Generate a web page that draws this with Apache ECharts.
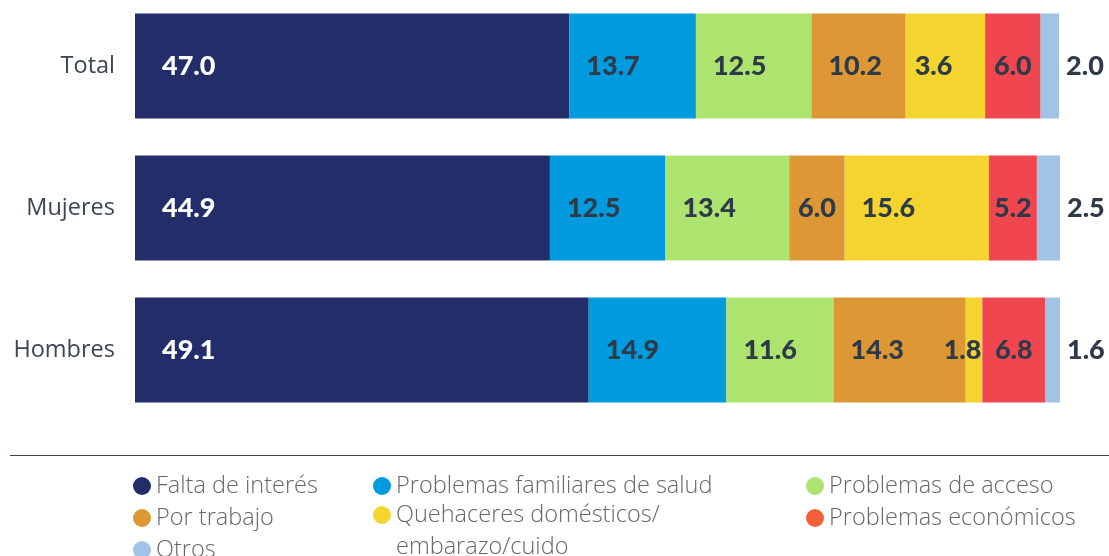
<!DOCTYPE html>
<html><head><meta charset="utf-8">
<script src="https://cdn.jsdelivr.net/npm/echarts@6/dist/echarts.min.js"></script>
<style>html,body{margin:0;padding:0;background:#fff}#c{width:1109px;height:556px}</style>
</head><body><div id="c"></div>
<script>
// Categories (top to bottom)
const categories = ['Total', 'Mujeres', 'Hombres'];
// Series values (bar widths as drawn)
const faltaInteres = [47.0, 44.9, 49.1];
const familiaresSalud = [13.7, 12.5, 14.9];
const acceso = [12.5, 13.4, 11.6];
const porTrabajo = [10.2, 6.0, 14.3];
const quehaceres = [8.6, 15.6, 1.8];
const quehaceresLabels = ['3.6', '15.6', '1.8']; // printed labels in the source
const economicos = [6.0, 5.2, 6.8];
const otros = [2.0, 2.5, 1.6];

const seriesNames = ['Falta de interés', 'Problemas familiares de salud', 'Problemas de acceso',
  'Por trabajo', 'Quehaceres domésticos/\nembarazo/cuido', 'Problemas económicos', 'Otros'];
const seriesData = [faltaInteres, familiaresSalud, acceso, porTrabajo, quehaceres, economicos, otros];
const seriesLabels = [null, null, null, null, quehaceresLabels, null, null];
const colors = ['#232d6a', '#009bde', '#ade36f', '#dd9734', '#f4d52f', '#ef4650', '#a1c4e6'];
const legendColors = ['#232d6a', '#009bde', '#ade36f', '#dd9734', '#f4d52f', '#f26139', '#a1c4e6'];

const LABEL_FONT = 'Lato';
const TEXT_FONT = 'Open Sans';
const labelColor = '#2e3a47';

function labelFor(si, v) {
  if (si === 0) return { position: 'insideLeft', distance: 27, color: '#ffffff' };
  if (si === 6) return { position: 'right', distance: 7, color: labelColor };
  if (v >= 10) return { position: 'insideLeft', distance: 17, color: labelColor };
  if (v >= 7) return { position: 'insideLeft', distance: 9, color: labelColor };
  if (v >= 3) return { position: 'inside', color: labelColor };
  return { position: 'insideRight', distance: 1, color: labelColor };
}

const series = seriesData.map((arr, si) => ({
  name: seriesNames[si],
  type: 'bar',
  stack: 'all',
  barWidth: 105,
  itemStyle: { color: colors[si] },
  emphasis: { disabled: true },
  data: arr.map((v, i) => ({
    value: v,
    label: Object.assign({
      show: true,
      fontFamily: LABEL_FONT,
      fontWeight: 900,
      fontSize: 27,
      formatter: () => seriesLabels[si] ? seriesLabels[si][i] : v.toFixed(1)
    }, labelFor(si, v))
  }))
}));

// legend placement: [seriesIndex, iconLeft, rowCenterY]
const legendPos = [
  [0, 133, 483], [1, 373, 483], [2, 806, 483],
  [3, 133, 515], [4, 373, 515], [5, 806, 515],
  [6, 133, 547]
];
const legends = legendPos.map(([si, x, y]) => {
  const multi = seriesNames[si].indexOf('\n') >= 0;
  return {
    data: [{ name: seriesNames[si], icon: 'circle', itemStyle: { color: legendColors[si] } }],
    left: x,
    top: multi ? y - 48 : y - 9,
    padding: 0,
    itemWidth: 18,
    itemHeight: 18,
    selectedMode: false,
    formatter: multi ? (n => '\n' + n) : (n => n),
    textStyle: { fontFamily: TEXT_FONT, fontSize: 23.5, color: '#676767', fontWeight: 300, lineHeight: multi ? 32 : 18 }
  };
});

const chart = echarts.init(document.getElementById('c'), null, { renderer: 'canvas' });
chart.setOption({
  animation: false,
  grid: { left: 135, width: 925, top: 66, height: 284 },
  xAxis: { type: 'value', min: 0, max: 100.1, show: false },
  yAxis: {
    type: 'category', data: categories, inverse: true, boundaryGap: false,
    axisLine: { show: false }, axisTick: { show: false }, splitLine: { show: false },
    axisLabel: { margin: 20, fontFamily: TEXT_FONT, fontSize: 23.5, color: '#3b4651' }
  },
  legend: legends,
  graphic: [{
    type: 'line', shape: { x1: 10, y1: 455.5, x2: 1109, y2: 455.5 },
    style: { stroke: '#3b4651', lineWidth: 1.2 }
  }],
  series: series
});
</script></body></html>
